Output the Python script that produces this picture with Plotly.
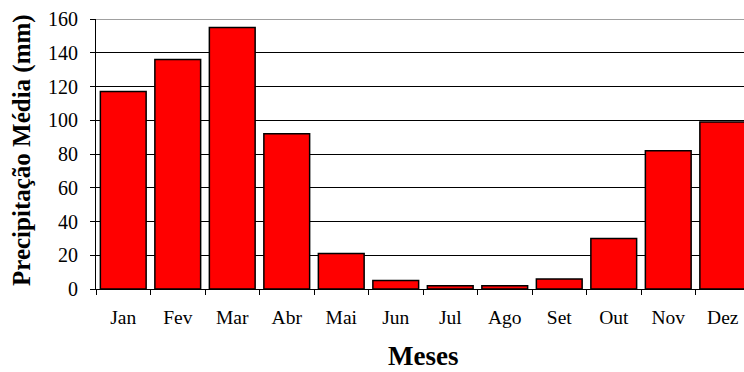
import plotly.graph_objects as go

# Monthly mean precipitation (mm)
meses = ["Jan", "Fev", "Mar", "Abr", "Mai", "Jun", "Jul", "Ago", "Set", "Out", "Nov", "Dez"]
precipitacao = [117, 136, 155, 92, 21, 5, 2, 2, 6, 30, 82, 99]

W, H = 744, 372
L, R, T, B = 96, 0, 19, 83

fig = go.Figure(
    go.Bar(
        x=meses,
        y=precipitacao,
        marker=dict(color="#ff0000", line=dict(color="black", width=1.5)),
        width=0.84,
    )
)

serif = "Liberation Serif, Times New Roman, serif"

fig.update_layout(
    width=W,
    height=H,
    margin=dict(l=L, r=R, t=T, b=B, pad=0),
    paper_bgcolor="white",
    plot_bgcolor="white",
    showlegend=False,
    font=dict(family=serif, size=18, color="black"),
    xaxis=dict(
        type="category",
        range=[-0.5, 11.39],
        tickson="boundaries",
        ticks="outside",
        ticklen=5,
        tickcolor="black",
        tickwidth=1,
        showline=True,
        linecolor="black",
        linewidth=1,
        showgrid=False,
        ticklabelstandoff=11,
        tickfont=dict(family=serif, size=19.5),
    ),
    yaxis=dict(
        range=[0, 160],
        tickvals=[0, 20, 40, 60, 80, 100, 120, 140, 160],
        ticks="outside",
        ticklen=5,
        tickcolor="black",
        showline=True,
        linecolor="black",
        linewidth=1,
        showgrid=True,
        gridcolor="black",
        gridwidth=1,
        zeroline=False,
        ticklabelstandoff=8,
        tickfont=dict(family=serif, size=20),
    ),
    shapes=[
        # light frame line along the top of the plot area
        dict(type="line", xref="paper", yref="y", x0=0, x1=1, y0=160, y1=160,
             line=dict(color="#a0a0a0", width=2), layer="above"),
    ],
    annotations=[
        dict(text="<b>Precipitação Média (mm)</b>", xref="paper", yref="paper",
             x=(22 - L) / (W - L - R), y=(H - B - 150) / (H - T - B),
             textangle=-90, showarrow=False, xanchor="center", yanchor="middle",
             font=dict(family=serif, size=25, color="black")),
        dict(text="<b>Meses</b>", xref="paper", yref="paper",
             x=(423 - L) / (W - L - R), y=-(356 - (H - B)) / (H - T - B),
             showarrow=False, xanchor="center", yanchor="middle",
             font=dict(family=serif, size=27, color="black")),
    ],
)

fig.write_html("out.html")
